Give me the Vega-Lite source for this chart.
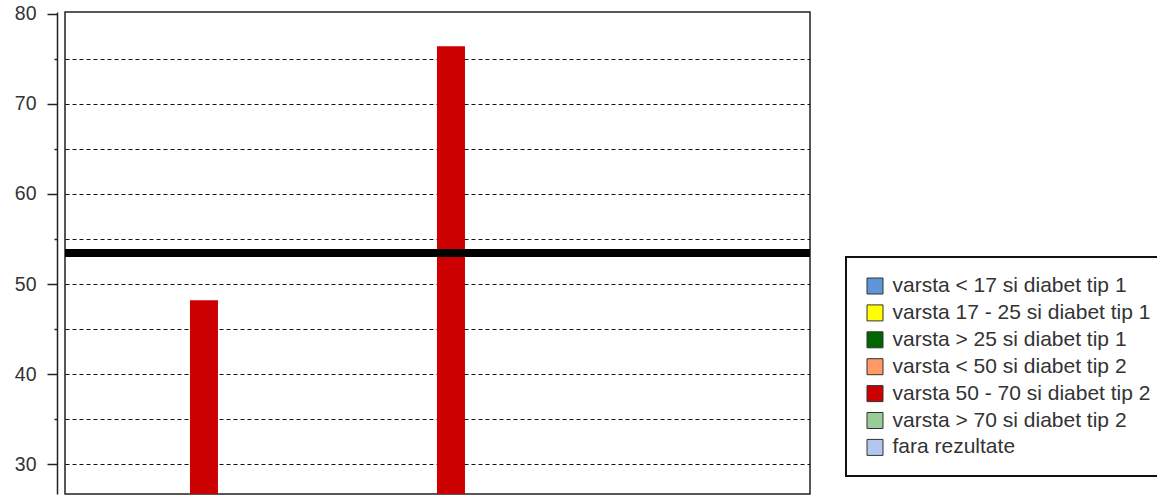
{
  "$schema": "https://vega.github.io/schema/vega-lite/v6.json",
  "width": 745,
  "height": 482,
  "autosize": {"type": "none"},
  "padding": {"left": 65, "top": 12, "right": 347, "bottom": 2},
  "background": "white",
  "config": {
    "view": {"stroke": "#222", "strokeWidth": 1.5},
    "font": "Liberation Sans"
  },
  "data": {
    "values": [
      {"categorie": "A", "serie": "varsta 50 - 70 si diabet tip 2", "valoare": 48.2},
      {"categorie": "B", "serie": "varsta 50 - 70 si diabet tip 2", "valoare": 76.4}
    ]
  },
  "layer": [
    {
      "mark": {"type": "bar", "clip": true},
      "encoding": {
        "x": {
          "field": "categorie",
          "type": "nominal",
          "scale": {"domain": ["A", "B", "C"], "paddingInner": 0.2065, "paddingOuter": 0.1113, "align": 0.236},
          "axis": null
        },
        "xOffset": {
          "field": "serie",
          "type": "nominal",
          "scale": {
            "domain": [
              "varsta < 17 si diabet tip 1",
              "varsta 17 - 25 si diabet tip 1",
              "varsta > 25 si diabet tip 1",
              "varsta < 50 si diabet tip 2",
              "varsta 50 - 70 si diabet tip 2",
              "varsta > 70 si diabet tip 2",
              "fara rezultate"
            ],
            "paddingInner": 0,
            "paddingOuter": 0
          }
        },
        "y": {
          "field": "valoare",
          "type": "quantitative",
          "scale": {"domain": [26.7, 80.2], "nice": false, "zero": false},
          "axis": {
            "title": null,
            "values": [30, 35, 40, 45, 50, 55, 60, 65, 70, 75, 80],
            "labelExpr": "datum.value % 10 === 0 ? datum.label : ''",
            "offset": 8,
            "grid": true,
            "gridDash": [4, 3],
            "gridColor": "#111",
            "gridWidth": 1,
            "gridOpacity": {"condition": {"test": "datum.value === 80", "value": 0}, "value": 1},
            "domainColor": "#222",
            "domainWidth": 1.5,
            "tickColor": "#222",
            "tickWidth": 1.5,
            "tickSize": {"condition": {"test": "datum.value % 10 === 0", "value": 10}, "value": 3},
            "labelFontSize": 19.5,
            "labelColor": "#333",
            "labelPadding": 11
          }
        },
        "color": {
          "field": "serie",
          "type": "nominal",
          "scale": {
            "domain": [
              "varsta < 17 si diabet tip 1",
              "varsta 17 - 25 si diabet tip 1",
              "varsta > 25 si diabet tip 1",
              "varsta < 50 si diabet tip 2",
              "varsta 50 - 70 si diabet tip 2",
              "varsta > 70 si diabet tip 2",
              "fara rezultate"
            ],
            "range": ["#5F96D8", "#FFFF00", "#006600", "#FF9966", "#CC0000", "#99CC99", "#B4C6F0"]
          },
          "legend": {
            "orient": "none",
            "legendX": 781,
            "legendY": 245,
            "title": null,
            "labelFontSize": 21,
            "labelColor": "#333",
            "labelLimit": 400,
            "labelOffset": 7,
            "symbolType": "square",
            "symbolSize": 256,
            "symbolStrokeColor": "#333",
            "symbolStrokeWidth": 1,
            "symbolOpacity": 1,
            "padding": 18.5,
            "rowPadding": 4.9,
            "strokeColor": "#111",
            "fillColor": "white",
            "cornerRadius": 0,
            "encode": {"legend": {"update": {"strokeWidth": {"value": 2}}}}
          }
        }
      }
    },
    {
      "data": {"values": [{"prag": 53.45}]},
      "mark": {"type": "rule", "color": "black", "strokeWidth": 8},
      "encoding": {
        "y": {"field": "prag", "type": "quantitative"}
      }
    }
  ]
}
